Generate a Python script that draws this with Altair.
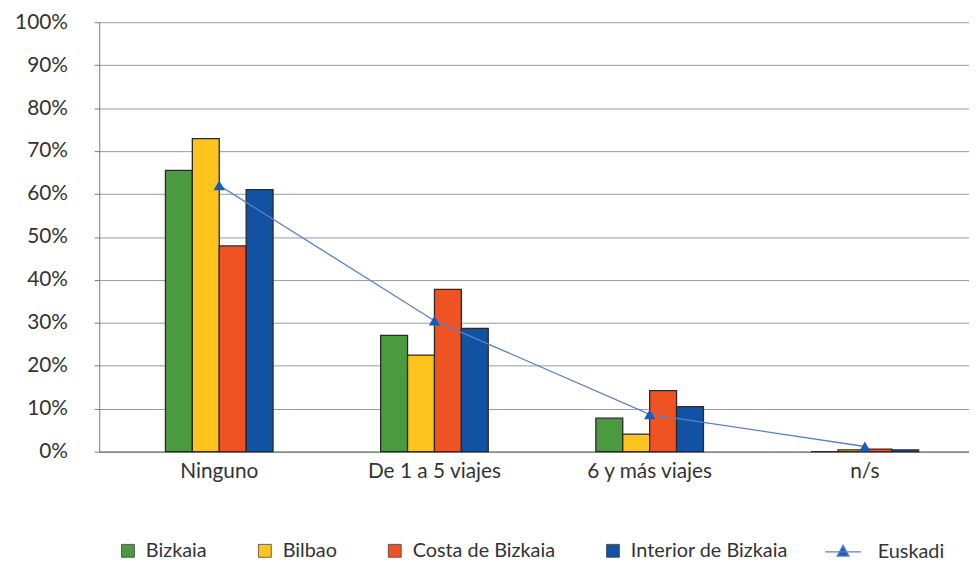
import altair as alt
import pandas as pd

categorias = ["Ninguno", "De 1 a 5 viajes", "6 y más viajes", "n/s"]
series = ["Bizkaia", "Bilbao", "Costa de Bizkaia", "Interior de Bizkaia"]
bizkaia = [65.5, 27.1, 7.8, 0.0]
bilbao = [72.9, 22.5, 4.1, 0.4]
costa = [47.9, 37.8, 14.2, 0.6]
interior = [61.0, 28.7, 10.5, 0.4]
euskadi = [62.0, 30.5, 8.7, 1.2]
colores = ["#4C9A3F", "#FDC41E", "#EF5323", "#1152A3"]
y_ticks = [0, 10, 20, 30, 40, 50, 60, 70, 80, 90, 100]

rows = []
for s, vals in zip(series, [bizkaia, bilbao, costa, interior]):
    for c, v in zip(categorias, vals):
        rows.append({"cat": c, "serie": s, "valor": v})
bars_df = pd.DataFrame(rows)
line_df = pd.DataFrame({"cat": categorias, "linea": ["Euskadi"] * len(categorias), "valor": euskadi})

FONT = "Lato"

x_enc = alt.X(
    "cat:N", sort=categorias,
    scale=alt.Scale(paddingInner=0.5, paddingOuter=0.3076, range=[0, 893]),
    axis=alt.Axis(title=None, labelAngle=0, ticks=False, domainColor="#777", domainWidth=1.2,
                  labelFontSize=21, labelPadding=9, labelColor="#333", labelFont=FONT),
)
y_enc = alt.Y(
    "valor:Q",
    scale=alt.Scale(domain=[0, 100], nice=False),
    axis=alt.Axis(values=y_ticks, labelExpr="datum.value + '%'", title=None, tickSize=5,
                  labelPadding=27, gridColor="#9a9a9a", gridWidth=1, domainColor="#777",
                  tickColor="#777", labelFontSize=21, labelColor="#333", labelFont=FONT),
)

bars = alt.Chart(bars_df).mark_bar(stroke="#2a2a2a", strokeWidth=1.3).encode(
    x=x_enc,
    xOffset=alt.XOffset("serie:N", sort=series, scale=alt.Scale(paddingInner=0, paddingOuter=0)),
    y=y_enc,
    color=alt.Color(
        "serie:N", sort=series,
        scale=alt.Scale(domain=series, range=colores),
        legend=alt.Legend(title=None, orient="none", direction="horizontal", legendX=19, legendY=523,
                          symbolType="square", symbolSize=169, symbolStrokeColor="#444",
                          symbolStrokeWidth=0.8, labelOffset=8, columnPadding=48,
                          labelFontSize=20, labelColor="#333", labelFont=FONT),
    ),
)

euskadi_path = "M-1,0H1M0,-0.36L0.33,0.24L-0.33,0.24Z"

line = alt.Chart(line_df).mark_line(strokeWidth=1.3).encode(
    x=x_enc,
    y=y_enc,
    stroke=alt.Stroke(
        "linea:N",
        scale=alt.Scale(domain=["Euskadi"], range=["#5B80C8"]),
        legend=alt.Legend(title=None, orient="none", direction="horizontal", legendX=731, legendY=515,
                          symbolType=euskadi_path, symbolSize=1296, symbolStrokeWidth=1.3,
                          symbolFillColor="#1A5BB5", symbolStrokeColor="#5B80C8", labelOffset=16,
                          labelFontSize=20, labelColor="#333", labelFont=FONT),
    ),
)

points = alt.Chart(line_df).mark_point(shape="triangle-up", filled=True, size=130,
                                       color="#1A5BB5", opacity=1).encode(x=x_enc, y=y_enc)

chart = alt.layer(bars, line, points).properties(
    width=877, height=433,
    padding={"left": 92, "top": 12, "right": 0, "bottom": 117},
    autosize=alt.AutoSizeParams(type="none"),
).configure_view(stroke=None)

chart.save("out.html", embed_options={"renderer": "svg", "actions": False})
